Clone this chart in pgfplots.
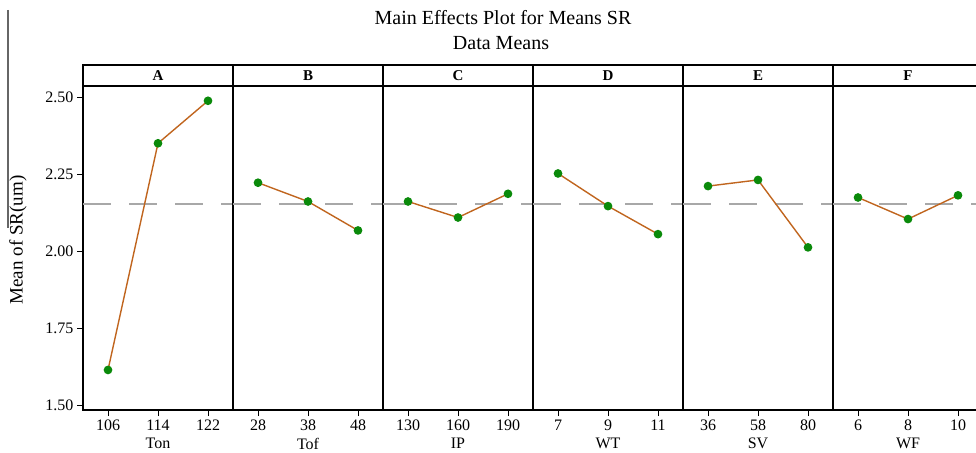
\documentclass[border=0pt]{standalone}
\usepackage{fontspec}
\setmainfont{Liberation Serif}
\usepackage{pgfplots}
\pgfplotsset{compat=1.18}
\definecolor{lc}{HTML}{C0651E}
\definecolor{mc}{HTML}{0A8A0A}
\definecolor{dg}{HTML}{A8A8A8}
\pgfplotsset{panel/.style={
  scale only axis, width=150pt, height=324pt,
  xmin=-0.5, xmax=2.5, ymin=1.484, ymax=2.536,
  xtick={0,1,2},
  axis line style={line width=1.6pt},
  tick style={black, line width=1pt},
  major tick length=6pt,
  tick align=outside,
  xtick pos=bottom,
  ytick=\empty,
  ticklabel style={font=\fontsize{16}{18}\selectfont},
  xlabel style={font=\fontsize{16}{18}\selectfont, yshift=-1pt},
  /pgf/number format/assume math mode=true,
  clip=false,
  anchor=south west,
}}
\newcommand{\meanline}{\addplot[dg, line width=1.8pt, dash pattern=on 28pt off 18pt, forget plot] coordinates {(-0.5,2.153) (2.5,2.153)};}
\pgfplotsset{eff/.style={lc, line width=1.4pt, mark=*, mark options={draw=mc, fill=mc, solid}, mark size=3.6pt}}
\newcommand{\strip}[2]{\draw[line width=1.6pt] (#1.north west) rectangle ([yshift=21pt]#1.north east);
  \node[font=\fontsize{15}{16}\selectfont\bfseries] at ([yshift=10.5pt]#1.north) {#2};}
\begin{document}
\begin{tikzpicture}
\useasboundingbox (0,0) rectangle (976pt,-452pt);
\clip (0,0) rectangle (976pt,-452pt);
\draw[gray!80!black, line width=1.3pt] (8pt,-10pt) -- (8pt,-228pt);
\node[font=\fontsize{20}{22}\selectfont] at (503pt,-18pt) {Main Effects Plot for Means SR};
\node[font=\fontsize{20}{22}\selectfont] at (501pt,-43pt) {Data Means};
\node[rotate=90, font=\fontsize{19}{20}\selectfont] at (18pt,-240pt) {Mean of SR(um)};

\begin{axis}[panel, name=A, at={(83pt,-410pt)}, xticklabels={106,114,122}, xlabel={Ton},
  ytick={1.5,1.75,2,2.25,2.5}, yticklabels={1.50,1.75,2.00,2.25,2.50}, ytick pos=left]
\meanline
\addplot[eff] coordinates {(0,1.614) (1,2.350) (2,2.488)};
\end{axis}
\begin{axis}[panel, name=B, at={(233pt,-410pt)}, xticklabels={28,38,48}, xlabel={Tof}]
\meanline
\addplot[eff] coordinates {(0,2.222) (1,2.161) (2,2.067)};
\end{axis}
\begin{axis}[panel, name=C, at={(383pt,-410pt)}, xticklabels={130,160,190}, xlabel={IP}]
\meanline
\addplot[eff] coordinates {(0,2.161) (1,2.109) (2,2.186)};
\end{axis}
\begin{axis}[panel, name=D, at={(533pt,-410pt)}, xticklabels={7,9,11}, xlabel={WT}]
\meanline
\addplot[eff] coordinates {(0,2.252) (1,2.146) (2,2.055)};
\end{axis}
\begin{axis}[panel, name=E, at={(683pt,-410pt)}, xticklabels={36,58,80}, xlabel={SV}]
\meanline
\addplot[eff] coordinates {(0,2.211) (1,2.231) (2,2.012)};
\end{axis}
\begin{axis}[panel, name=F, at={(833pt,-410pt)}, xticklabels={6,8,10}, xlabel={WF}]
\meanline
\addplot[eff] coordinates {(0,2.174) (1,2.104) (2,2.181)};
\end{axis}
\strip{A}{A}
\strip{B}{B}
\strip{C}{C}
\strip{D}{D}
\strip{E}{E}
\strip{F}{F}
\end{tikzpicture}
\end{document}
